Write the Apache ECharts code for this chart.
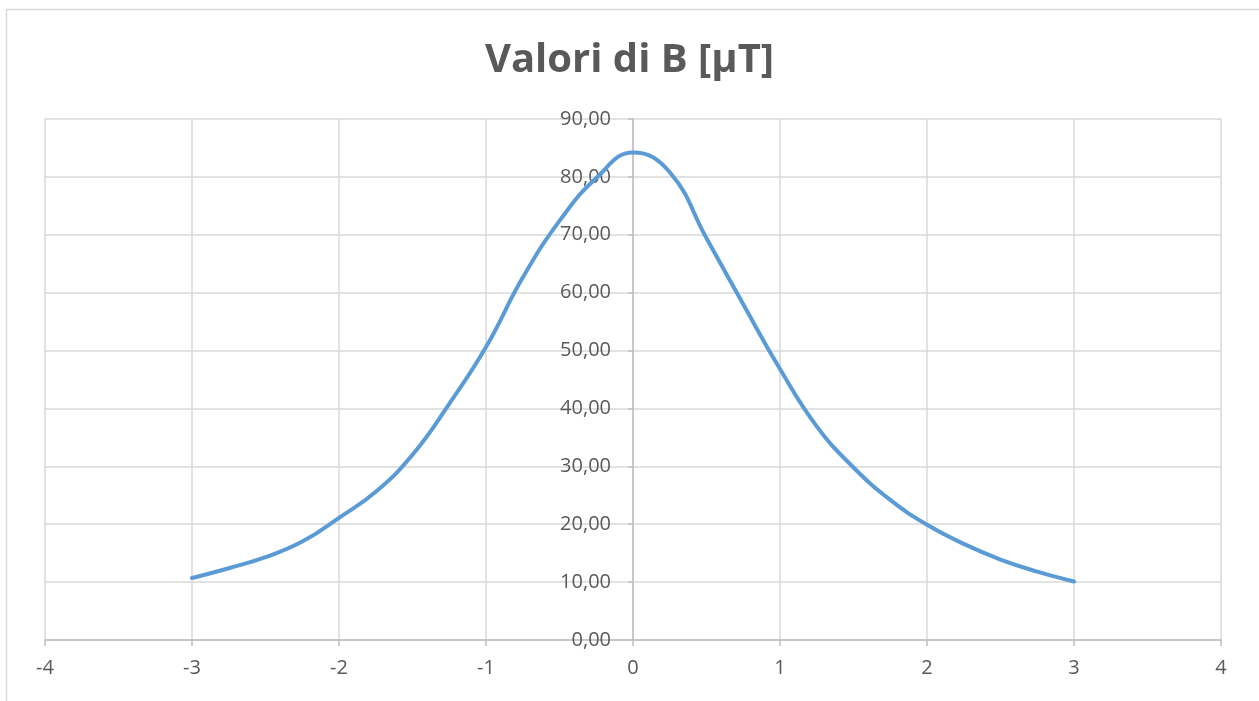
<!DOCTYPE html>
<html>
<head>
<meta charset="utf-8">
<script src="https://cdn.jsdelivr.net/npm/echarts@6/dist/echarts.min.js"></script>
<style>
html,body{margin:0;padding:0;background:#fff;}
#c{width:1259px;height:701px;}
</style>
</head>
<body>
<div id="c"></div>
<script>
const titleText = 'Valori di B [µT]';
const xValues = [-3, -2.75, -2.5, -2.25, -2, -1.75, -1.5, -1.25, -1, -0.75, -0.5, -0.25, 0, 0.25, 0.5, 0.75, 1, 1.25, 1.5, 1.75, 2, 2.25, 2.5, 2.75, 3];
const bValues = [10.7, 12.4, 14.3, 17.0, 21.1, 25.6, 32.0, 40.8, 50.6, 62.6, 72.4, 79.8, 84.2, 80.8, 69.4, 58.0, 46.8, 36.9, 29.8, 24.2, 19.9, 16.6, 13.9, 11.8, 10.1];
const xTicks = {min: -4, max: 4, interval: 1};
const yTicks = {min: 0, max: 90, interval: 10};

const chart = echarts.init(document.getElementById('c'), null, {renderer: 'canvas'});
const labelColor = '#595959';
const font = 'Open Sans';
const gridLeft = 45, gridRight = 38;
const plotWidth = 1259 - gridLeft - gridRight;
// y axis sits at x = 0 of the x scale
const yAxisOffset = -plotWidth * (0 - xTicks.min) / (xTicks.max - xTicks.min);
chart.setOption({
  animation: false,
  backgroundColor: '#fff',
  graphic: [{
    type: 'rect', left: 4, top: 7, shape: {width: 1270, height: 710},
    style: {fill: 'none', stroke: '#d9d9d9', lineWidth: 1.5}, silent: true
  }],
  title: {
    text: titleText, left: 'center', top: 36,
    textStyle: {fontFamily: font, fontSize: 40, fontWeight: 'bold', color: labelColor}
  },
  grid: {left: gridLeft, right: gridRight, top: 119, bottom: 61, containLabel: false, outerBoundsMode: 'none'},
  xAxis: {
    type: 'value', min: xTicks.min, max: xTicks.max, interval: xTicks.interval,
    axisLine: {show: true, onZero: true, lineStyle: {color: '#bfbfbf', width: 1.5}},
    axisTick: {show: true, length: 6, lineStyle: {color: '#bfbfbf', width: 1.5}},
    axisLabel: {color: labelColor, fontFamily: font, fontSize: 20, margin: 18},
    splitLine: {show: true, lineStyle: {color: '#d9d9d9', width: 1.5}}
  },
  yAxis: {
    type: 'value', min: yTicks.min, max: yTicks.max, interval: yTicks.interval,
    offset: yAxisOffset,
    axisLine: {show: true, onZero: false, lineStyle: {color: '#bfbfbf', width: 1.5}},
    axisTick: {show: true, length: 5, lineStyle: {color: '#bfbfbf', width: 1.5}},
    axisLabel: {color: labelColor, fontFamily: font, fontSize: 20, margin: 22,
      formatter: v => v.toFixed(2).replace('.', ',')},
    splitLine: {show: true, lineStyle: {color: '#d9d9d9', width: 1.5}}
  },
  series: [{
    type: 'line',
    data: xValues.map((x, i) => [x, bValues[i]]),
    smooth: 0.45,
    showSymbol: false,
    lineStyle: {color: '#5b9bd5', width: 4, cap: 'round', join: 'round'},
    z: 5
  }]
});
</script>
</body>
</html>
